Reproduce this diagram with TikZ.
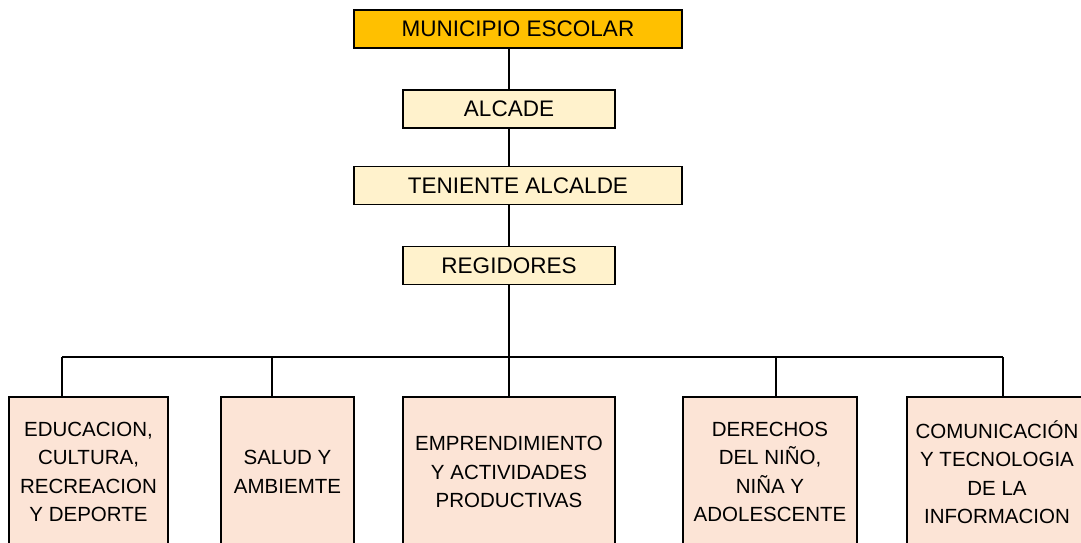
\documentclass[tikz,border=0pt]{standalone}
\usepackage{fontspec}
\setmainfont{Liberation Sans}
\definecolor{orangebox}{HTML}{FFC000}
\definecolor{creambox}{HTML}{FFF2CC}
\definecolor{peachbox}{HTML}{FCE4D6}
\begin{document}
\begin{tikzpicture}[x=1pt,y=-1pt,
cargo/.style={draw, line width=1.6pt, fill=creambox, inner sep=0pt, minimum height=38pt, font=\fontsize{22.5}{26}\selectfont},
comision/.style={draw, line width=1.6pt, fill=peachbox, inner sep=0pt, minimum height=150pt, align=center, font=\fontsize{20.5}{28.5}\selectfont},
enlace/.style={line width=1.6pt}]
\useasboundingbox (0,0) rectangle (1081,543);
\clip (0,0) rectangle (1081,543);

\node (mun) at (518,29) [cargo, fill=orangebox, minimum width=328pt] {MUNICIPIO ESCOLAR};
\node (alc) at (509,109) [cargo, minimum width=212pt] {ALCADE};
\node (ten) at (518,185.5) [cargo, minimum width=328pt] {TENIENTE ALCALDE};
\node (reg) at (509,265.5) [cargo, minimum width=212pt] {REGIDORES};

\node (edu) at (88.5,472) [comision, minimum width=159pt] {EDUCACION,\\CULTURA,\\RECREACION\\Y DEPORTE};
\node (sal) at (287.5,472) [comision, minimum width=133pt] {SALUD Y\\AMBIEMTE};
\node (emp) at (509,472) [comision, minimum width=212pt] {EMPRENDIMIENTO\\Y ACTIVIDADES\\PRODUCTIVAS};
\node (der) at (770,472) [comision, minimum width=174pt] {DERECHOS\\DEL NIÑO,\\NIÑA Y\\ADOLESCENTE};
\node (com) at (997,472) [comision, minimum width=180pt] {COMUNICACIÓN\\Y TECNOLOGIA\\DE LA\\INFORMACION};

\coordinate (b1) at (62,357);
\coordinate (b2) at (272,357);
\coordinate (b4) at (776,357);
\coordinate (b5) at (1003,357);

\draw[enlace]
(alc.north) to (alc.north |- mun.south)
(alc.south) to (alc.south |- ten.north)
(reg.north) to (reg.north |- ten.south)
(reg.south) to (emp.north)
(b1) to (b5);
\foreach \b/\n in {b1/edu,b2/sal,b4/der,b5/com}
  \draw[enlace] (\b) to (\b |- \n.north);
\end{tikzpicture}
\end{document}
